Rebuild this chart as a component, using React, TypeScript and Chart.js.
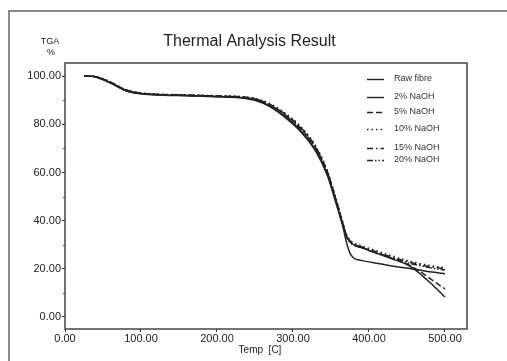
import React, { useEffect, useRef } from "react";
import { Chart, registerables } from "chart.js";

Chart.register(...registerables);

const temps = [25, 35, 45, 60, 80, 100, 130, 160, 200, 230, 250, 270, 290, 310, 330, 345, 355, 365, 370, 375, 380, 390, 410, 430, 450, 460, 470, 480, 490, 500];

const rawFibre = [100, 100, 99.3, 97.3, 94.2, 92.8, 92.2, 92.0, 91.6, 91.2, 90.2, 87.6, 83.2, 77.5, 69.2, 59.5, 49.5, 38.5, 31.5, 26.5, 24.4, 23.5, 22.3, 21.2, 20.3, 19.8, 19.3, 18.8, 18.4, 18.0];
const naoh2 = [100, 100, 99.2, 97.2, 94.0, 92.7, 92.1, 91.9, 91.5, 91.1, 90.0, 87.3, 82.8, 77.0, 68.8, 59.0, 49.0, 38.5, 33.8, 31.2, 30.0, 28.8, 26.5, 24.2, 21.8, 19.8, 17.2, 14.4, 11.4, 8.3];
const naoh5 = [100, 100, 99.4, 97.5, 94.3, 93.0, 92.4, 92.2, 91.8, 91.5, 90.6, 88.2, 84.0, 78.5, 70.2, 60.5, 50.5, 39.5, 34.2, 31.5, 30.3, 29.0, 26.7, 24.4, 22.0, 20.3, 18.3, 16.0, 13.8, 11.7];
const naoh10 = [100, 100, 99.5, 97.6, 94.4, 93.1, 92.5, 92.3, 91.9, 91.6, 90.8, 88.6, 84.6, 79.2, 71.0, 61.0, 51.0, 40.0, 34.6, 32.0, 30.8, 29.6, 27.5, 25.4, 23.5, 22.7, 22.0, 21.4, 20.9, 20.5];
const naoh15 = [100, 100, 99.4, 97.4, 94.2, 92.9, 92.3, 92.1, 91.7, 91.4, 90.5, 88.2, 84.2, 78.8, 70.5, 60.3, 50.2, 39.5, 34.0, 31.5, 30.3, 29.2, 27.0, 24.9, 23.0, 22.2, 21.5, 20.9, 20.4, 20.0];
const naoh20 = [100, 100, 99.3, 97.3, 94.1, 92.8, 92.2, 92.0, 91.6, 91.3, 90.4, 88.0, 83.8, 78.2, 70.0, 60.0, 50.0, 39.2, 33.6, 31.0, 29.8, 28.7, 26.5, 24.5, 22.6, 21.8, 21.1, 20.5, 19.9, 19.5];

const seriesLabels = ["Raw fibre", "2% NaOH", "5% NaOH", "10% NaOH", "15% NaOH", "20% NaOH"];
const seriesValues = [rawFibre, naoh2, naoh5, naoh10, naoh15, naoh20];
const seriesDashes: number[][] = [[], [], [6, 3], [1.5, 3], [6, 3, 1.5, 3], [6, 2, 1.5, 2, 1.5, 2]];

const xTicks = [0, 100, 200, 300, 400, 500];
const yTicks = [0, 20, 40, 60, 80, 100];
const yMinorTicks = [10, 30, 50, 70, 90];

const titleText = "Thermal Analysis Result";
const xAxisTitle = "Temp  [C]";
const yAxisTitle = ["TGA", "%"];

const FONT = "'Liberation Sans', Arial, sans-serif";

const decorPlugin = {
  id: "decor",
  afterDraw(chart: any) {
    const ctx = chart.ctx;
    const ca = chart.chartArea;
    const ys = chart.scales.y;
    ctx.save();
    // outer frame
    ctx.strokeStyle = "#8a8a8a";
    ctx.lineWidth = 2;
    ctx.beginPath();
    ctx.moveTo(9, 361);
    ctx.lineTo(9, 11);
    ctx.lineTo(507, 11);
    ctx.stroke();
    // plot box
    ctx.strokeStyle = "#444";
    ctx.lineWidth = 1.5;
    ctx.strokeRect(ca.left, ca.top, ca.right - ca.left, ca.bottom - ca.top);
    // minor ticks
    ctx.lineWidth = 1;
    ctx.beginPath();
    yMinorTicks.forEach((v) => {
      const y = Math.round(ys.getPixelForValue(v)) + 0.5;
      ctx.moveTo(ca.left - 2, y);
      ctx.lineTo(ca.left, y);
    });
    ctx.stroke();
    // title
    ctx.fillStyle = "#222";
    ctx.font = `16px ${FONT}`;
    ctx.textAlign = "center";
    ctx.textBaseline = "alphabetic";
    ctx.fillText(titleText, 249.5, 46);
    // y axis title
    ctx.font = `9px ${FONT}`;
    ctx.textBaseline = "middle";
    ctx.fillText(yAxisTitle[0], 50, 42);
    ctx.fillText(yAxisTitle[1], 51, 53);
    // x axis title
    ctx.font = `10px ${FONT}`;
    ctx.fillText(xAxisTitle, 260, 350);
    // legend
    const rows = [79, 97, 112, 129, 148, 160];
    chart.data.datasets.forEach((ds: any, i: number) => {
      const y = rows[i] + 0.5;
      ctx.strokeStyle = "#222";
      ctx.lineWidth = 1.4;
      ctx.setLineDash(ds.borderDash || []);
      ctx.beginPath();
      ctx.moveTo(367, y);
      ctx.lineTo(384, y);
      ctx.stroke();
      ctx.setLineDash([]);
      ctx.fillStyle = "#333";
      ctx.font = `9px ${FONT}`;
      ctx.textAlign = "left";
      ctx.textBaseline = "middle";
      ctx.fillText(ds.label, 394, rows[i]);
    });
    ctx.restore();
  },
};

export default function App() {
  const ref = useRef<HTMLCanvasElement | null>(null);
  useEffect(() => {
    if (!ref.current) return;
    Chart.defaults.font.family = FONT;
    const chart = new Chart(ref.current, {
      type: "line",
      data: {
        datasets: seriesLabels.map((label, i) => ({
          label,
          data: temps.map((t, j) => ({ x: t, y: seriesValues[i][j] })),
          borderColor: "#222",
          borderWidth: 1.5,
          borderDash: seriesDashes[i],
          pointRadius: 0,
          fill: false,
          cubicInterpolationMode: "monotone" as const,
        })),
      },
      options: {
        responsive: false,
        animation: false,
        devicePixelRatio: 1,
        layout: { padding: { left: 0, top: 63, right: 40, bottom: 12 } },
        plugins: { legend: { display: false }, title: { display: false }, tooltip: { enabled: false } },
        scales: {
          x: {
            type: "linear",
            min: 0,
            max: 529,
            afterBuildTicks: (scale: any) => {
              scale.ticks = xTicks.map((v) => ({ value: v }));
            },
            afterFit: (scale: any) => {
              scale.height = 20;
            },
            border: { display: false },
            grid: { display: true, drawOnChartArea: false, drawTicks: true, tickLength: 3, color: "#333" },
            ticks: {
              autoSkip: false,
              maxRotation: 0,
              padding: 0,
              color: "#222",
              font: { size: 11, family: FONT },
              callback: (v: any) => Number(v).toFixed(2),
            },
          },
          y: {
            type: "linear",
            min: -5,
            max: 105.5,
            afterBuildTicks: (scale: any) => {
              scale.ticks = yTicks.map((v) => ({ value: v }));
            },
            afterFit: (scale: any) => {
              scale.width = 65;
            },
            border: { display: false },
            grid: { display: true, drawOnChartArea: false, drawTicks: true, tickLength: 3, color: "#333" },
            ticks: {
              padding: 1,
              color: "#222",
              font: { size: 11, family: FONT },
              callback: (v: any) => Number(v).toFixed(2),
            },
          },
        },
      },
      plugins: [decorPlugin],
    });
    return () => chart.destroy();
  }, []);
  return (
    <div style={{ position: "fixed", left: 0, top: 0, width: 507, height: 361, background: "#fff" }}>
      <canvas ref={ref} width={507} height={361} style={{ display: "block" }} />
    </div>
  );
}
